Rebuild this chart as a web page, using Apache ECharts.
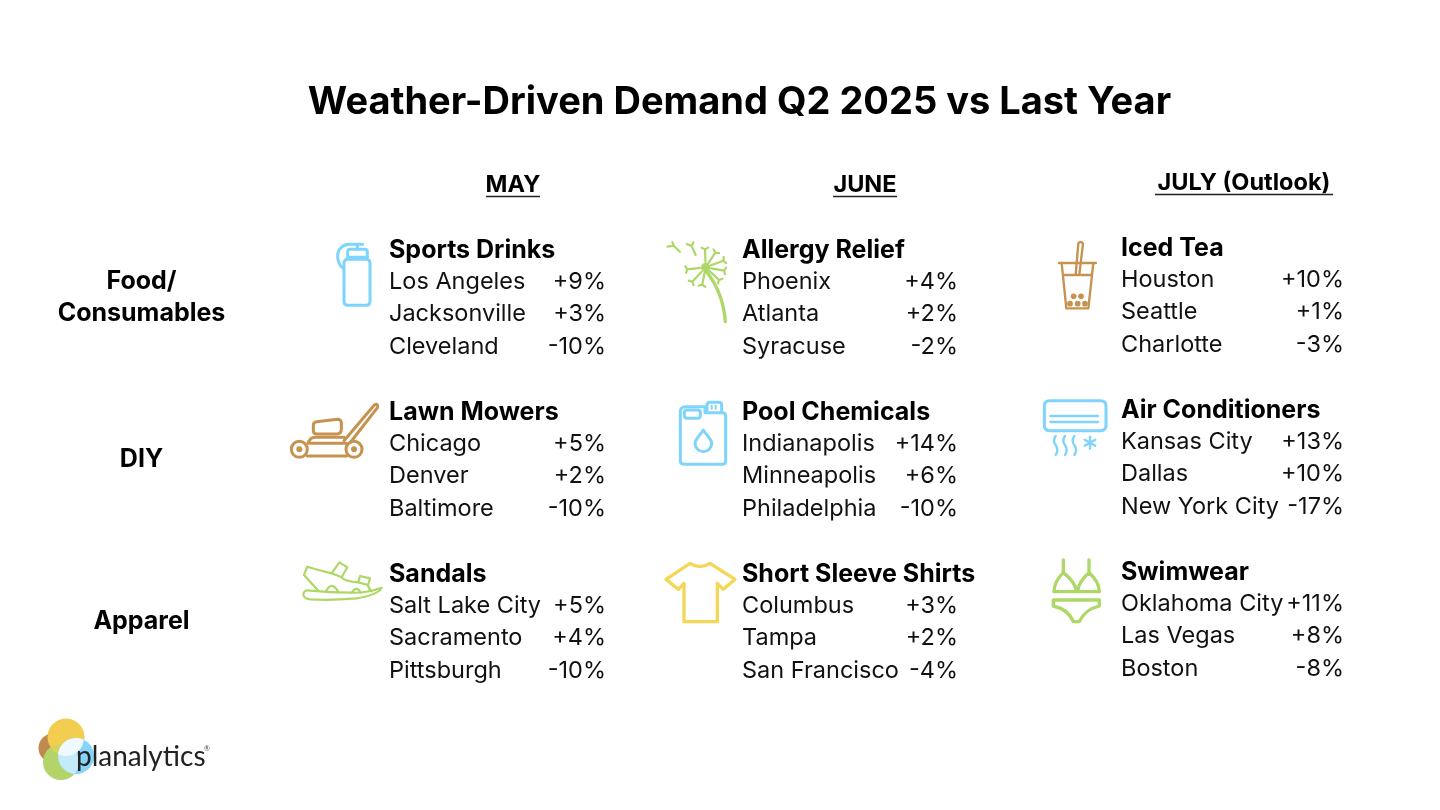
<!DOCTYPE html>
<html>
<head>
<meta charset="utf-8">
<title>Weather-Driven Demand</title>
<script src="https://cdn.jsdelivr.net/npm/echarts@6/dist/echarts.min.js"></script>
<style>
html, body { margin: 0; background: #fff; }
#main { width: 1440px; height: 810px; }
</style>
</head>
<body>
<div id="main"></div>
<script>
var months = ['MAY', 'JUNE', 'JULY (Outlook)'];
var rowLabels = ['Food/\nConsumables', 'DIY', 'Apparel'];

// one entry per row, then per month
var products = [
    ['Sports Drinks', 'Allergy Relief', 'Iced Tea'],
    ['Lawn Mowers', 'Pool Chemicals', 'Air Conditioners'],
    ['Sandals', 'Short Sleeve Shirts', 'Swimwear']
];
var cities = [
    [['Los Angeles', 'Jacksonville', 'Cleveland'], ['Phoenix', 'Atlanta', 'Syracuse'], ['Houston', 'Seattle', 'Charlotte']],
    [['Chicago', 'Denver', 'Baltimore'], ['Indianapolis', 'Minneapolis', 'Philadelphia'], ['Kansas City', 'Dallas', 'New York City']],
    [['Salt Lake City', 'Sacramento', 'Pittsburgh'], ['Columbus', 'Tampa', 'San Francisco'], ['Oklahoma City', 'Las Vegas', 'Boston']]
];
var changes = [
    [[9, 3, -10], [4, 2, -2], [10, 1, -3]],
    [[5, 2, -10], [14, 6, -10], [13, 10, -17]],
    [[5, 4, -10], [3, 2, -4], [11, 8, -8]]
];

var FONT = 'Inter';
var BLUE = '#7fd4fb', BROWN = '#c6924f', GREEN = '#add766', YELLOW = '#f5d657';

// the month columns are not evenly spaced in the picture
var colShift = [-1, -14, 0];
var colTop = [0, 0, -2];
var textLeft = [-124, -123, -123], valueRight = [93, 93, 100];
var lineStep = [-47, -15, 17, 50];

function stroke(color, d, w) {
    return { type: 'path', shape: { pathData: d }, style: { fill: 'none', stroke: color, lineWidth: w || 9, lineJoin: 'round', lineCap: 'round' } };
}
function dot(color, x, y, r) {
    return { type: 'circle', shape: { cx: x, cy: y, r: r }, style: { fill: color } };
}

// dandelion spokes, each with a small fork at the end
function spokes() {
    var ends = [[150, 58], [181, 68], [205, 92], [207, 122], [192, 150], [142, 164], [112, 155], [97, 118]];
    var d = '';
    ends.forEach(function (e) {
        var dx = e[0] - 152, dy = e[1] - 112, len = Math.sqrt(dx * dx + dy * dy);
        var nx = -dy / len * 10, ny = dx / len * 10;
        d += 'M' + (152 + dx * 0.3) + ' ' + (112 + dy * 0.3) + 'L' + e[0] + ' ' + e[1];
        d += 'M' + (e[0] + nx + dx / len * 5) + ' ' + (e[1] + ny + dy / len * 5) + 'L' + e[0] + ' ' + e[1];
        d += 'L' + (e[0] - nx + dx / len * 5) + ' ' + (e[1] - ny + dy / len * 5);
    });
    return d;
}

// icons are drawn at 3x, at an offset from the centre of their cell
var icons = [
    [
        { at: [-233, -67], kids: [
            stroke(BLUE, 'M192 100Q192 88 204 88H258Q270 88 270 100V214Q270 226 258 226H204Q192 226 192 214Z'),
            stroke(BLUE, 'M203 82V66Q203 58 211 58H254Q262 58 262 66V82Z'),
            stroke(BLUE, 'M190 115C176 105 173 95 173 78C173 55 190 43 210 43H248M232 43V57')
        ] },
        { at: [-210, -67], kids: [
            dot(GREEN, 152, 112, 14),
            stroke(GREEN, 'M155 125Q205 190 211 275', 10),
            stroke(GREEN, spokes(), 6.5),
            stroke(GREEN, 'M38 50L56 47L75 65M56 47L52 36M95 42L110 48L122 75M110 48L115 37', 6.5)
        ] },
        { at: [-209, -67], kids: [
            stroke(BROWN, 'M72 99H183', 7),
            stroke(BROWN, 'M80 99L94 235H160L175 99', 7),
            stroke(BROWN, 'M86 135H170', 7),
            stroke(BROWN, 'M122 134L130 40Q136 32 144 40L133 134', 7),
            dot(BROWN, 116, 199, 8.5), dot(BROWN, 138, 199, 8.5),
            dot(BROWN, 105, 221, 8.5), dot(BROWN, 128, 221, 8.5), dot(BROWN, 150, 221, 8.5)
        ] }
    ],
    [
        { at: [-233, -229], kids: [
            stroke(BROWN, 'M192 632L283 525Q294 518 293 532L212 636'),
            stroke(BROWN, 'M100 585Q100 576 110 575L172 568Q183 568 184 578V598Q184 611 172 612H112Q100 612 100 602Z'),
            stroke(BROWN, 'M84 640Q90 622 106 622H192M84 640H198M82 678H200'),
            stroke(BROWN, 'M82 658A24 24 0 1 1 34 658A24 24 0 1 1 82 658ZM246 658A24 24 0 1 1 198 658A24 24 0 1 1 246 658Z'),
            dot(BROWN, 58, 658, 9), dot(BROWN, 222, 658, 9)
        ] },
        { at: [-210, -229], kids: [
            stroke(BLUE, 'M76 545Q76 530 92 530H150V548H203Q212 548 212 558V693Q212 703 203 703H88Q76 703 76 693Z'),
            stroke(BLUE, 'M156 546V526Q156 517 164 517H192Q200 517 200 526V546'),
            stroke(BLUE, 'M170 527V536M182 527V536', 6),
            stroke(BLUE, 'M88 548Q88 540 96 540H128Q136 540 136 548V556Q136 565 128 565H96Q88 565 88 556Z'),
            stroke(BLUE, 'M145 600C132 620 120 628 120 640A25 25 0 0 0 170 640C170 628 158 620 145 600Z')
        ] },
        { at: [-209, -229], kids: [
            stroke(BLUE, 'M28 528Q28 512 44 512H197Q213 512 213 528V586Q213 602 197 602H44Q28 602 28 586Z', 9),
            stroke(BLUE, 'M46 558H189M46 576H189', 7),
            stroke(BLUE, 'M62 618Q52 632 62 645Q72 660 62 675M90 618Q80 632 90 645Q100 660 90 675M118 618Q108 632 118 645Q128 660 118 675', 7),
            stroke(BLUE, 'M165 620V656M149 629L181 647M149 647L181 629', 7)
        ] }
    ],
    [
        { at: [-223, -71], kids: [
            stroke(GREEN, 'M40 135Q40 118 60 122Q120 128 180 128Q230 130 275 113Q265 135 200 145Q120 152 60 148Q42 145 40 135Z', 6.5),
            stroke(GREEN, 'M42 75L52 50Q90 62 125 70L148 37L172 52L155 82Q165 95 205 97L210 78L240 85L234 105Q236 118 246 124', 6.5),
            stroke(GREEN, 'M42 75Q60 95 85 122M125 70L155 82M205 97L234 105M108 124Q125 90 145 126M185 128Q200 105 212 128', 6.5)
        ] },
        { at: [-210, -71], kids: [
            stroke(YELLOW, 'M105 40Q135 60 165 40L240 88L205 118L187 100V215H87V100L70 118L33 88Z', 10)
        ] },
        { at: [-204, -71], kids: [
            stroke(GREEN, 'M70 30V68M147 30V68', 10),
            stroke(GREEN, 'M70 68Q42 95 42 125H110Q105 95 70 68ZM147 68Q115 95 113 125H178Q178 95 147 68Z', 10),
            stroke(GREEN, 'M40 150H178V168Q135 178 118 215H100Q85 178 40 168Z', 10)
        ] }
    ]
];

function formatChange(v) {
    return (v > 0 ? '+' : '') + v + '%';
}

var cellData = [];
products.forEach(function (row, r) {
    row.forEach(function (name, c) {
        cellData.push([c, r]);
    });
});

function renderCell(params, api) {
    var c = api.value(0), r = api.value(1);
    var p = api.coord([c, r]);
    var cx = p[0] + colShift[c], cy = p[1] + colTop[c];
    var kids = [{
        type: 'text',
        style: { x: cx + textLeft[c], y: cy + lineStep[0], text: products[r][c], fill: '#000', font: 'bold 25px ' + FONT, verticalAlign: 'middle' }
    }];
    cities[r][c].forEach(function (city, i) {
        kids.push({
            type: 'text',
            style: { x: cx + textLeft[c], y: cy + lineStep[i + 1], text: city, fill: '#111', font: '23.5px ' + FONT, verticalAlign: 'middle' }
        });
        kids.push({
            type: 'text',
            style: { x: cx + valueRight[c], y: cy + lineStep[i + 1], text: formatChange(changes[r][c][i]), fill: '#111', font: '23.5px ' + FONT, align: 'right', verticalAlign: 'middle' }
        });
    });
    var icon = icons[r][c];
    kids.push({
        type: 'group',
        x: p[0] + colShift[c] + icon.at[0],
        y: p[1] + icon.at[1],
        scaleX: 1 / 3,
        scaleY: 1 / 3,
        children: icon.kids
    });
    return { type: 'group', children: kids };
}

function renderMonth(params, api) {
    var c = api.value(0);
    var p = api.coord([c, 0]);
    var cx = p[0] + colShift[c], cy = p[1] - 112 + colTop[c];
    var halfW = [27, 32, 89][c];
    return {
        type: 'group',
        children: [
            { type: 'text', style: { x: cx, y: cy, text: months[c], fill: '#000', font: 'bold 23.5px ' + FONT, align: 'center', verticalAlign: 'middle' } },
            { type: 'line', shape: { x1: cx - halfW, y1: cy + 11.5, x2: cx + halfW, y2: cy + 11.5 }, style: { stroke: '#222', lineWidth: 1.5 } }
        ]
    };
}

// logo, bottom left; the pale shapes are where the circles overlap
function renderLogo() {
    function fillPath(d, color) {
        return { type: 'path', shape: { pathData: d }, style: { fill: color } };
    }
    return {
        type: 'group',
        children: [
            dot('#c08a4c', 53, 748, 14.5),
            dot('#b2d468', 61, 762, 18),
            dot('#f2cd50', 66, 737, 18.5),
            fillPath('M76.4 752.7A18 18 0 0 1 50.6 747.3A18 18 0 0 1 76.4 752.7Z', '#d5d45c'),
            dot('#86d4f8', 76, 756, 18),
            fillPath('M62.5 744.1A18 18 0 0 1 74.5 773.9A18 18 0 0 1 62.5 744.1Z', '#c5ebfa'),
            fillPath('M83.9 739.8A18 18 0 0 1 58.1 754.2A18 18 0 0 1 83.9 739.8Z', '#f0f9fd'),
            { type: 'text', style: { x: 76, y: 757, text: 'planalytics', fill: '#222', font: '28px Lato', verticalAlign: 'middle' } },
            { type: 'text', style: { x: 204, y: 749, text: '®', fill: '#444', font: '7px Lato', verticalAlign: 'middle' } }
        ]
    };
}

var chart = echarts.init(document.getElementById('main'), null, { renderer: 'canvas' });
chart.setOption({
    animation: false,
    backgroundColor: '#fff',
    title: {
        text: 'Weather-Driven Demand Q2 2025 vs Last Year',
        left: 734.5,
        top: 79,
        textAlign: 'center',
        textStyle: { fontFamily: FONT, fontWeight: 'bold', fontSize: 38, color: '#000' }
    },
    grid: { left: 331.5, top: 216, width: 1095, height: 486 },
    xAxis: { type: 'category', data: months, show: false },
    yAxis: {
        type: 'category',
        data: rowLabels,
        inverse: true,
        axisLine: { show: false },
        axisTick: { show: false },
        axisLabel: {
            margin: 190,
            align: 'center',
            fontFamily: FONT,
            fontWeight: 'bold',
            fontSize: 25,
            lineHeight: 32,
            color: '#000'
        }
    },
    series: [
        { type: 'custom', name: 'cells', coordinateSystem: 'cartesian2d', clip: false, silent: true, data: cellData, renderItem: renderCell },
        { type: 'custom', name: 'months', coordinateSystem: 'cartesian2d', clip: false, silent: true, data: months.map(function (m, i) { return [i, 0]; }), renderItem: renderMonth },
        { type: 'custom', name: 'logo', coordinateSystem: 'none', silent: true, data: [0], renderItem: renderLogo }
    ]
});
</script>
</body>
</html>
